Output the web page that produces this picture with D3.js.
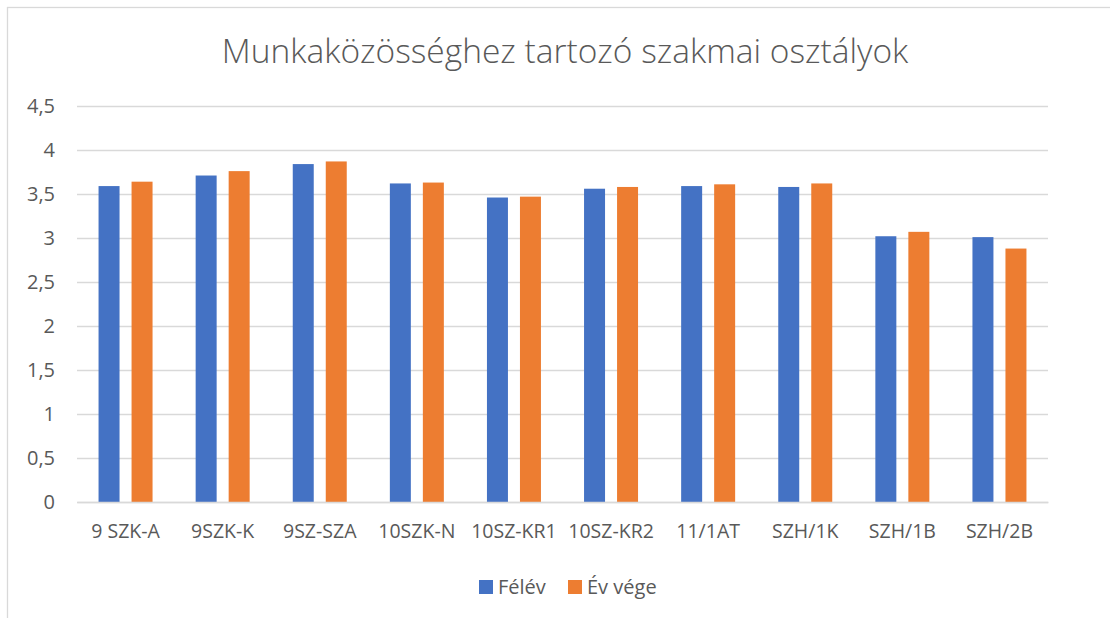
<!DOCTYPE html>
<html>
<head>
<meta charset="utf-8">
<script src="https://cdn.jsdelivr.net/npm/d3@7"></script>
<style>
  body { margin: 0; background: #fff; }
  text { font-family: "Open Sans", sans-serif; fill: #595959; }
</style>
</head>
<body>
<div id="chart"></div>
<script>
const categories = ['9 SZK-A', '9SZK-K', '9SZ-SZA', '10SZK-N', '10SZ-KR1',
    '10SZ-KR2', '11/1AT', 'SZH/1K', 'SZH/1B', 'SZH/2B'];
const felev = [3.59, 3.71, 3.84, 3.62, 3.46, 3.56, 3.59, 3.58, 3.02, 3.01];
const evVege = [3.64, 3.76, 3.87, 3.63, 3.47, 3.58, 3.61, 3.62, 3.07, 2.88];
const seriesNames = ['Félév', 'Év vége'];
const seriesColors = ['#4472C4', '#ED7D31'];
const yTicks = [0, 0.5, 1, 1.5, 2, 2.5, 3, 3.5, 4, 4.5];

const width = 1110, height = 618;
const margin = {top: 106, right: 62, bottom: 116, left: 77};

let svg = d3.select("#chart")
    .append("svg")
    .attr("width", width)
    .attr("height", height);

// chart frame
svg.append("rect")
    .attr("x", 7.5)
    .attr("y", 7.5)
    .attr("width", width)
    .attr("height", height)
    .style("fill", "none")
    .style("stroke", "#d9d9d9")
    .style("stroke-width", 1.3);

svg.append("text")
    .attr("x", 565)
    .attr("y", 63)
    .attr("text-anchor", "middle")
    .style("font-size", "33.5px")
    .style("font-weight", 300)
    .text("Munkaközösséghez tartozó szakmai osztályok");

let x0 = d3.scaleBand()
    .domain(categories)
    .range([margin.left, width - margin.right])
    .padding(0);

let x1 = d3.scaleBand()
    .domain(seriesNames)
    .range([0, x0.bandwidth()])
    .paddingInner(0.364)
    .paddingOuter(0.653);

let y = d3.scaleLinear()
    .domain([0, 4.5])
    .range([height - margin.bottom, margin.top]);

let fmt = d => d3.format("")(d).replace(".", ",");

// grid lines
svg.append("g")
    .selectAll("line")
    .data(yTicks)
    .enter()
    .append("line")
    .attr("x1", margin.left)
    .attr("x2", width - margin.right)
    .attr("y1", d => Math.round(y(d)) + 0.5)
    .attr("y2", d => Math.round(y(d)) + 0.5)
    .style("stroke", "#d9d9d9")
    .style("stroke-width", 1.3);

// y axis labels
let yAxis = svg.append("g")
    .attr("transform", "translate(" + margin.left + ",0)")
    .call(d3.axisLeft(y).tickValues(yTicks).tickFormat(fmt).tickSize(0).tickPadding(22));
yAxis.select(".domain").remove();
yAxis.selectAll("text")
    .style("font-size", "20px")
    .style("font-family", "Open Sans")
    .style("fill", "#595959");

// bars
let groups = svg.append("g")
    .selectAll("g")
    .data(categories)
    .enter()
    .append("g")
    .attr("transform", d => "translate(" + x0(d) + ",0)");

groups.selectAll("rect")
    .data((d, i) => [felev[i], evVege[i]].map((v, j) => ({name: seriesNames[j], value: v, color: seriesColors[j]})))
    .enter()
    .append("rect")
    .attr("x", d => x1(d.name))
    .attr("width", x1.bandwidth())
    .attr("y", d => y(d.value))
    .attr("height", d => y(0) - y(d.value))
    .style("fill", d => d.color);

// x axis
let xAxis = svg.append("g")
    .attr("transform", "translate(0," + y(0) + ")")
    .call(d3.axisBottom(x0).tickSize(0).tickPadding(22));
xAxis.select(".domain")
    .style("stroke", "#d9d9d9")
    .style("stroke-width", 1.3);
xAxis.selectAll("text")
    .style("font-size", "19.5px")
    .style("font-family", "Open Sans")
    .style("fill", "#595959");

// legend
let legend = svg.append("g");
let legendX = [479, 568];
seriesNames.forEach((name, i) => {
    legend.append("rect")
        .attr("x", legendX[i])
        .attr("y", 580)
        .attr("width", 14)
        .attr("height", 14)
        .style("fill", seriesColors[i]);
    legend.append("text")
        .attr("x", legendX[i] + 19)
        .attr("y", 594)
        .style("font-size", "20px")
        .text(name);
});
</script>
</body>
</html>
